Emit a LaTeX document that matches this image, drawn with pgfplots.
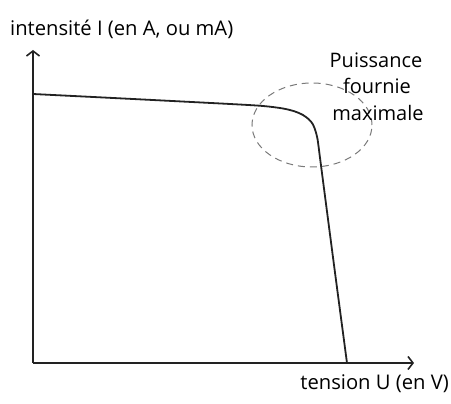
\documentclass[border=0pt]{standalone}
\usepackage{fontspec}
\setmainfont{Open Sans}
\usepackage{pgfplots}
\pgfplotsset{compat=1.18}
\usetikzlibrary{arrows.meta}

\definecolor{curve}{HTML}{222222}
\definecolor{dashgray}{HTML}{7A7A7A}

\begin{document}
\begin{tikzpicture}
\begin{axis}[
    at={(0,0)}, anchor=origin,
    scale only axis,
    width=381pt, height=313pt,
    xmin=0, xmax=381,
    ymin=0, ymax=313,
    axis lines=left,
    axis line style={line width=1.8pt, color=curve, -{Straight Barb[length=5pt,width=13pt,line width=1.6pt]}},
    xtick=\empty, ytick=\empty,
    clip=false,
]
% caracteristique I(U)
\addplot[color=curve, line width=1.8pt, smooth, tension=0.5] coordinates {
    (0,269) (100,264) (197,259) (230,257) (250,254.5) (262,251.5)
    (270,248) (276,243.5) (280,238.5) (282.5,232) (284.1,226)
    (285.1,220) (288.2,196) (301,98) (314,0)
};
% zone de puissance maximale
\draw[dashgray, line width=1pt, dash pattern=on 7pt off 5pt]
    (axis cs:279,238) ellipse [x radius=60, y radius=42];
\node[font=\fontsize{20}{24}\selectfont] at (axis cs:343,303) {Puissance};
\node[font=\fontsize{20}{24}\selectfont] at (axis cs:344,277) {fournie};
\node[font=\fontsize{20}{24}\selectfont] at (axis cs:345,250) {maximale};
\node[font=\fontsize{20.2}{24}\selectfont, anchor=west, inner sep=0pt] at (axis cs:-23,334) {intensité I (en A, ou mA)};
\node[font=\fontsize{20.2}{24}\selectfont, anchor=east, inner sep=0pt] at (axis cs:416,-21) {tension U (en V)};
\end{axis}
\pgfresetboundingbox
\path[use as bounding box] (-33pt,-41pt) rectangle (418pt,363pt);
\end{tikzpicture}
\end{document}
